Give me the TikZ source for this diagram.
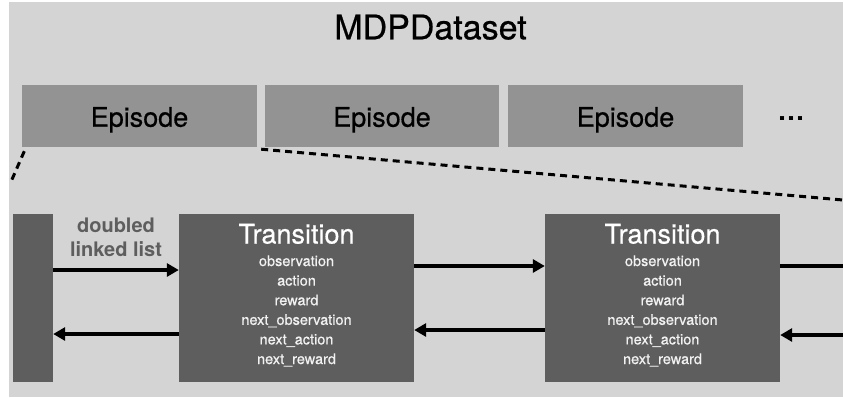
\documentclass[tikz,border=0pt]{standalone}
\usepackage{fontspec}
\setmainfont{TeX Gyre Heros}
\newfontfamily\medfont{TeX Gyre Heros}[FakeBold=0.6]
\usetikzlibrary{arrows.meta,calc}
\definecolor{bgc}{HTML}{D4D4D4}
\definecolor{epc}{HTML}{939393}
\definecolor{dkc}{HTML}{5E5E5E}
\begin{document}
\begin{tikzpicture}[x=1pt,y=-1pt,
  episode/.style={draw=none,fill=epc,minimum width=235pt,minimum height=62pt,inner sep=0pt},
  eptext/.style={anchor=base,inner sep=0pt,font=\medfont\fontsize{27}{30}\selectfont,text=black},
  darkbox/.style={draw=none,fill=dkc,minimum height=168pt,inner sep=0pt},
  ttl/.style={anchor=base,inner sep=0pt,font=\medfont\fontsize{27}{30}\selectfont,text=white},
  fld/.style={anchor=base,inner sep=0pt,font=\medfont\fontsize{14.5}{17}\selectfont,text=white!95!black},
  lbl/.style={anchor=base,inner sep=0pt,font=\fontsize{20}{22}\selectfont\bfseries,text=dkc},
  arr/.style={line width=3.2pt,-{Triangle[length=12pt,width=13pt]}},
  plain/.style={line width=3.2pt},
  dsh/.style={line width=3pt,dash pattern=on 7pt off 5pt}]
\useasboundingbox (0,0) rectangle (843,397);
\fill[bgc] (9,2) rectangle (843,397);
% title
\node[anchor=base,inner sep=0pt,font=\medfont\fontsize{34}{38}\selectfont] (title) at (430.5,39.3) {MDPDataset};
% episodes
\node[episode] (e1) at (139.5,116) {};
\node[episode,minimum width=234pt] (e2) at (382,116) {};
\node[episode] (e3) at (625.5,116) {};
\node[eptext] (e1t) at (139.5,126.7) {Episode};
\node[eptext] (e2t) at (382,126.7) {Episode};
\node[eptext] (e3t) at (625.5,126.7) {Episode};
\node[anchor=base,inner sep=0pt,font=\fontsize{27}{30}\selectfont\bfseries] (dots) at (791,120) {…};
% dashed zoom lines
\coordinate (dl) at (10,184);
\coordinate (dr) at (843,200);
\draw[dsh] ($(e1.south west)+(2.5,4)$) -- (dl);
\draw[dsh] ($(e1.south east)+(4,2)$) -- (dr);
% boxes
\node[darkbox,minimum width=40pt] (sb) at (33,298) {};
\node[darkbox,minimum width=235pt] (t1) at (296.5,298) {};
\node[darkbox,minimum width=235pt] (t2) at (662.5,298) {};
% label
\node[lbl] (l1) at (116,232.7) {doubled};
\node[lbl] (l2) at (116,256) {linked list};
% transition texts
\foreach \b/\cx in {t1/296.5,t2/662.5}{
  \node[ttl] (\b title) at (\cx,243.5) {Transition};
  \foreach \f [count=\i from 0] in {observation,action,reward,next\_observation,next\_action,next\_reward}{
    \node[fld] (\b f\i) at (\cx,266+19.6*\i) {\f};
  }
}
% arrows
\draw[arr] ($(sb.east)+(0,-28)$) -- ($(t1.west)+(0,-28)$);
\draw[arr] ($(t1.west)+(0,36)$) -- ($(sb.east)+(0,36)$);
\draw[arr] ($(t1.east)+(0,-32)$) -- ($(t2.west)+(0,-32)$);
\draw[arr] ($(t2.west)+(0,32)$) -- ($(t1.east)+(0,32)$);
\coordinate (rf) at (843,266);
\coordinate (rb) at (843,335);
\draw[plain] (t2.east |- rf) -- (rf);
\draw[arr] (rb) -- (t2.east |- rb);
\end{tikzpicture}
\end{document}
